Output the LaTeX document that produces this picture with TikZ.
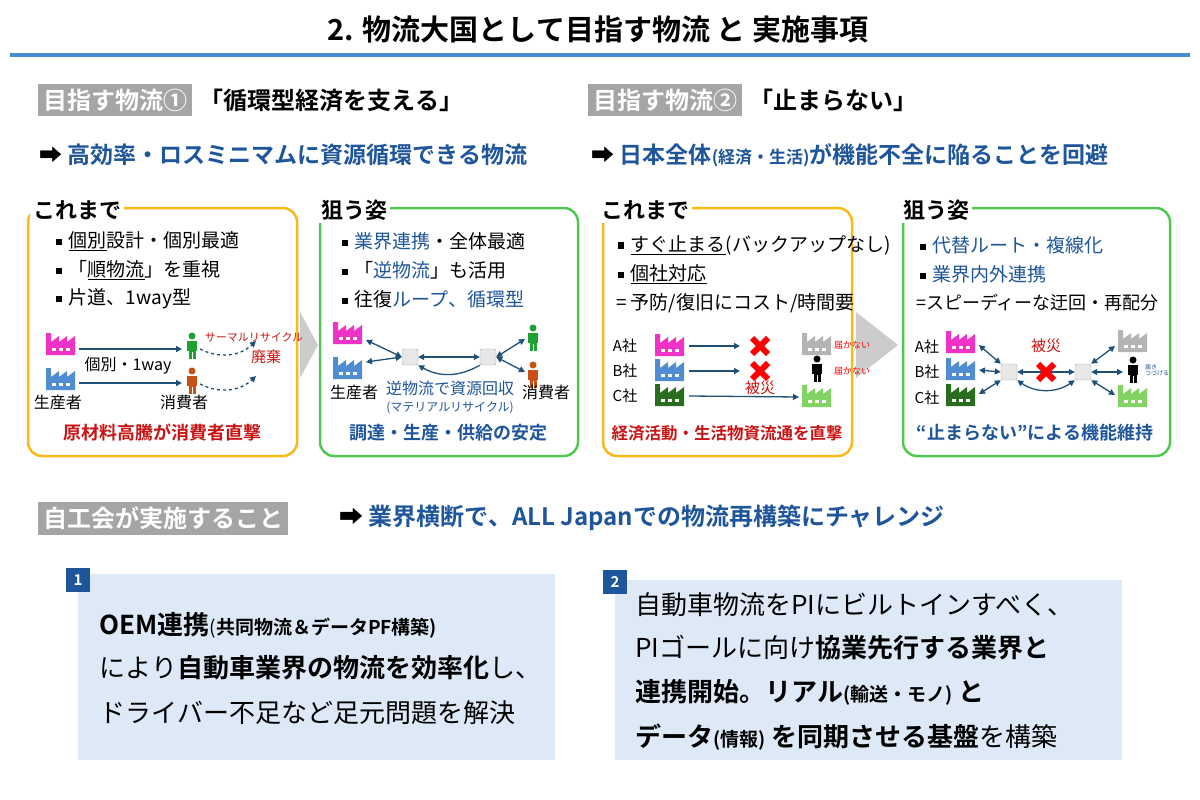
\documentclass[tikz,border=0pt]{standalone}
\usepackage{fontspec}
\setmainfont{Noto Sans CJK JP}
\newfontfamily\jpbold{Noto Sans CJK JP Bold}
\usepackage{xcolor}
\usetikzlibrary{arrows.meta,positioning,calc}

\definecolor{navy}{RGB}{30,85,155}
\definecolor{lineblue}{RGB}{70,140,210}
\definecolor{hdgray}{RGB}{165,165,165}
\definecolor{boxorange}{RGB}{250,185,20}
\definecolor{boxgreen}{RGB}{80,200,80}
\definecolor{alertred}{RGB}{200,20,20}
\definecolor{paleblue}{RGB}{221,233,246}
\definecolor{fpink}{RGB}{240,50,200}
\definecolor{fblue}{RGB}{80,140,210}
\definecolor{fdgreen}{RGB}{40,110,30}
\definecolor{flgreen}{RGB}{130,210,100}
\definecolor{fgray}{RGB}{180,180,180}
\definecolor{pgreen}{RGB}{30,160,50}
\definecolor{porange}{RGB}{200,80,20}
\definecolor{arrblue}{RGB}{30,80,120}

\newcommand{\sq}{\rule[0.25ex]{0.32em}{0.32em}\hspace{0.35em}}
\newcommand{\fs}[1]{\fontsize{#1}{#1}\selectfont}

\tikzset{
  factory/.pic={
    \fill[#1] (0,0)--(5,0)--(5,9)--(13,3)--(13,9)--(21,3)--(21,9)--(29,3)--(29,22)--(0,22)--cycle;
    \foreach \wx in {6,13,20} \fill[white] (\wx,15) rectangle ++(4,3);
  },
  person/.pic={
    \fill[#1] (0,-7) circle (3.5);
    \fill[#1] (-5,-2) rectangle (5,8);
    \fill[#1] (-3.5,8) rectangle (3.5,16);
    \draw[white,line width=0.8pt] (0,9)--(0,16);
  },
  redx/.pic={
    \draw[red,line width=6pt] (-8,-8)--(8,8) (-8,8)--(8,-8);
  },
  hub/.style={draw=gray!70, fill=gray!18, rounded corners=2pt, minimum size=16pt, inner sep=0pt},
  flow/.style={-{Triangle[length=6pt,width=6pt]}, arrblue, line width=1.3pt},
  both/.style={{Triangle[length=6pt,width=6pt]}-{Triangle[length=6pt,width=6pt]}, arrblue, line width=1.3pt},
  panel/.style={rounded corners=14pt, line width=2.5pt},
  head/.style={fill=white, inner sep=3pt, font=\jpbold\fs{22}},
  tag/.style={fill=hdgray, text=white, font=\jpbold\fs{24}, inner sep=5pt},
  item/.style={anchor=west, font=\fs{19}, inner sep=0pt},
  small/.style={font=\fs{14}, inner sep=0pt},
  res/.style={font=\jpbold\fs{18}}
}

\begin{document}
\begin{tikzpicture}[x=1pt, y=-1pt]
\useasboundingbox (0,0) rectangle (1200,800);

% Title
\node[font=\jpbold\fs{29}] (title) at (598,30) {2. 物流大国として目指す物流 と 実施事項};
\draw[lineblue, line width=3.5pt] (10,55) -- (1190,55);

% Goals
\node[tag, anchor=west] (goal1) at (38,100) {目指す物流①};
\node[font=\jpbold\fs{24}, right=4pt of goal1] (goal1t) {「循環型経済を支える」};
\node[tag, anchor=west] (goal2) at (588,100) {目指す物流②};
\node[font=\jpbold\fs{24}, right=4pt of goal2] (goal2t) {「止まらない」};
\node[anchor=west, font=\jpbold\fs{23}] (aim1) at (36,155) {➡ \textcolor{navy}{高効率・ロスミニマムに資源循環できる物流}};
\node[anchor=west, font=\jpbold\fs{23}] (aim2) at (588,155) {➡ \textcolor{navy}{日本全体{\fs{17}(経済・生活)}が機能不全に陥ることを回避}};

% Panels
\draw[panel, boxorange] (28,208) rectangle (297,456);
\draw[panel, boxgreen] (320,208) rectangle (578,456);
\draw[panel, boxorange] (603,208) rectangle (852,456);
\draw[panel, boxgreen] (903,208) rectangle (1170,456);
\fill[gray!40] (300,312) -- (318,345) -- (300,378) -- cycle;
\fill[gray!40] (856,312) -- (898,345) -- (856,378) -- cycle;
\node[head, anchor=west] (h1) at (30,210) {これまで};
\node[head, anchor=west] (h2) at (318,210) {狙う姿};
\node[head, anchor=west] (h3) at (598,210) {これまで};
\node[head, anchor=west] (h4) at (900,210) {狙う姿};

% Panel 1
\node[item] (p1a) at (56,241) {\sq\underline{個別}設計・個別最適};
\node[item] (p1b) at (56,270) {\sq「\underline{順物流}」を重視};
\node[item] (p1c) at (56,299) {\sq 片道、1way型};
\coordinate (f1a) at (46,333);
\coordinate (f1b) at (46,368);
\pic at (f1a) {factory=fpink};
\pic at (f1b) {factory=fblue};
\coordinate (c1a) at (192,343);
\coordinate (c1b) at (192,378);
\pic at (c1a) {person=pgreen};
\pic at (c1b) {person=porange};
\draw[flow] ($(f1a)+(33,16)$) -- ($(c1a)+(-10,6)$);
\draw[flow] ($(f1b)+(33,15)$) -- ($(c1b)+(-10,5)$);
\draw[flow, dashed] ($(c1a)+(8,6)$) to[bend right=35] ($(c1a)+(64,-2)$);
\draw[flow, dashed] ($(c1b)+(8,6)$) to[bend right=35] ($(c1b)+(64,-2)$);
\node[small, text=alertred, font=\fs{11}] (therm) at (254,337) {サーマルリサイクル};
\node[small, text=alertred, font=\fs{15}] (waste) at (266,357) {廃棄};
\node[small, font=\fs{16}] (ind) at (128,366) {個別・1way};
\node[small, font=\fs{16}] (prod1) at (58,402) {生産者};
\node[small, font=\fs{16}] (cons1) at (184,402) {消費者};
\node[res, text=alertred] (res1) at (162,433) {原材料高騰が消費者直撃};

% Panel 2
\node[item] (p2a) at (342,241) {\sq\textcolor{navy}{業界連携}・全体最適};
\node[item] (p2b) at (342,270) {\sq「\textcolor{navy}{逆物流}」も活用};
\node[item] (p2c) at (342,299) {\sq 往復\textcolor{navy}{ループ、循環型}};
\coordinate (f2a) at (333,322);
\coordinate (f2b) at (333,357);
\pic at (f2a) {factory=fpink};
\pic at (f2b) {factory=fblue};
\node[hub] (hub1) at (410,357) {};
\node[hub] (hub2) at (488,357) {};
\coordinate (c2a) at (533,335);
\coordinate (c2b) at (533,372);
\pic at (c2a) {person=pgreen};
\pic at (c2b) {person=porange};
\draw[both] ($(f2a)+(33,18)$) -- (hub1.west);
\draw[both] ($(f2b)+(33,5)$) -- (hub1.west);
\draw[both] (hub1) -- (hub2);
\draw[flow] (hub2.south west) to[bend left=30] (hub1.south east);
\draw[both] (hub2.east) -- ($(c2a)+(-8,4)$);
\draw[both] (hub2.east) -- ($(c2b)+(-8,0)$);
\node[small, font=\fs{16}] (prod2) at (354,392) {生産者};
\node[small, font=\fs{16}, text=navy] (rev) at (450,388) {逆物流で資源回収};
\node[small, font=\fs{12}, text=navy] (mat) at (450,408) {(マテリアルリサイクル)};
\node[small, font=\fs{16}] (cons2) at (546,392) {消費者};
\node[res, text=navy] (res2) at (448,433) {調達・生産・供給の安定};

% Panel 3
\node[item] (p3a) at (618,245) {\sq\underline{すぐ止まる}(バックアップなし)};
\node[item] (p3b) at (618,274) {\sq\underline{個社対応}};
\node[item] (p3c) at (616,303) {= 予防/復旧にコスト/時間要};
\node[small, font=\fs{15}] (ca3) at (625,346) {A社};
\node[small, font=\fs{15}] (cb3) at (625,371) {B社};
\node[small, font=\fs{15}] (cc3) at (625,396) {C社};
\coordinate (f3a) at (655,334);
\coordinate (f3b) at (655,359);
\coordinate (f3c) at (655,384);
\pic at (f3a) {factory=fpink};
\pic at (f3b) {factory=fblue};
\pic at (f3c) {factory=fdgreen};
\coordinate (x3a) at (760,346);
\coordinate (x3b) at (760,371);
\pic at (x3a) {redx};
\pic at (x3b) {redx};
\draw[flow] ($(f3a)+(34,12)$) -- ($(x3a)+(-20,0)$);
\draw[flow] ($(f3b)+(34,12)$) -- ($(x3b)+(-20,0)$);
\coordinate (g3a) at (802,333);
\coordinate (g3c) at (802,385);
\pic at (g3a) {factory=fgray};
\pic at (g3c) {factory=flgreen};
\coordinate (m3) at (817,366);
\pic at (m3) {person=black};
\draw[flow] ($(f3c)+(34,12)$) -- ($(g3c)+(-3,12)$);
\node[small, font=\fs{15}, text=alertred] (hit3) at (760,388) {被災};
\node[small, font=\fs{9}, text=red] (nd1) at (852,345) {届かない};
\node[small, font=\fs{9}, text=red] (nd2) at (852,371) {届かない};
\node[res, font=\jpbold\fs{16.5}, text=alertred] (res3) at (727,433) {経済活動・生活物資流通を直撃};

% Panel 4
\node[item] (p4a) at (920,245) {\sq\textcolor{navy}{代替ルート・複線化}};
\node[item] (p4b) at (920,274) {\sq\textcolor{navy}{業界内外連携}};
\node[item, font=\fs{18}] (p4c) at (916,303) {=スピーディーな迂回・再配分};
\node[small, font=\fs{15}] (ca4) at (927,347) {A社};
\node[small, font=\fs{15}] (cb4) at (927,372) {B社};
\node[small, font=\fs{15}] (cc4) at (927,398) {C社};
\coordinate (f4a) at (946,331);
\coordinate (f4b) at (946,358);
\coordinate (f4c) at (946,384);
\pic at (f4a) {factory=fpink};
\pic at (f4b) {factory=fblue};
\pic at (f4c) {factory=fdgreen};
\node[hub] (hub3) at (1009,372) {};
\node[hub] (hub4) at (1083,372) {};
\draw[both] ($(f4a)+(33,14)$) -- (hub3.north west);
\draw[both] ($(f4b)+(33,12)$) -- (hub3.west);
\draw[both] ($(f4c)+(33,10)$) -- (hub3.south west);
\draw[both] (hub3) -- (hub4);
\draw[both] (hub3.south east) to[bend right=35] (hub4.south west);
\coordinate (x4) at (1046,372);
\pic at (x4) {redx};
\node[small, font=\fs{15}, text=alertred] (hit4) at (1046,346) {被災};
\coordinate (g4a) at (1118,330);
\coordinate (g4c) at (1118,385);
\pic at (g4a) {factory=fgray};
\pic at (g4c) {factory=flgreen};
\coordinate (m4) at (1133,367);
\pic at (m4) {person=black};
\draw[both] (hub4.north east) -- ($(g4a)+(-3,16)$);
\draw[both] (hub4.east) -- ($(m4)+(-10,5)$);
\draw[both] (hub4.south east) -- ($(g4c)+(-3,10)$);
\node[small, font=\fs{6}, text=navy, align=left] (keep) at (1157,370) {届き\\つづける};
\node[res, text=navy] (res4) at (1035,433) {“止まらない”による機能維持};

% Actions
\node[tag, anchor=west] (act) at (38,518) {自工会が実施すること};
\node[anchor=west, font=\jpbold\fs{24}] (actt) at (336,518) {➡ \textcolor{navy}{業界横断で、ALL Japanでの物流再構築にチャレンジ}};

\fill[paleblue] (78,574) rectangle (555,760);
\node[fill=navy, text=white, font=\jpbold\fs{15}, minimum size=24pt, inner sep=0pt] (n1) at (78,580) {1};
\node[anchor=west, font=\fs{26}, align=left] (t1a) at (96,625) {{\jpbold OEM連携}{\fs{19}(\jpbold 共同物流＆データPF構築)}};
\node[anchor=west, font=\fs{26}] (t1b) at (96,668) {により{\jpbold 自動車業界の物流を効率化}し、};
\node[anchor=west, font=\fs{26}] (t1c) at (96,713) {ドライバー不足など足元問題を解決};

\fill[paleblue] (615,580) rectangle (1122,760);
\node[fill=navy, text=white, font=\jpbold\fs{15}, minimum size=24pt, inner sep=0pt] (n2) at (615,582) {2};
\node[anchor=west, font=\fs{26}] (t2a) at (632,605) {自動車物流をPIにビルトインすべく、};
\node[anchor=west, font=\fs{26}] (t2b) at (632,648) {PIゴールに向け{\jpbold 協業先行する業界と}};
\node[anchor=west, font=\fs{26}] (t2c) at (632,692) {\jpbold 連携開始。リアル{\fs{19}(輸送・モノ)} と};
\node[anchor=west, font=\fs{26}] (t2d) at (632,737) {{\jpbold データ{\fs{19}(情報)} を同期させる基盤}を構築};
\end{tikzpicture}
\end{document}
